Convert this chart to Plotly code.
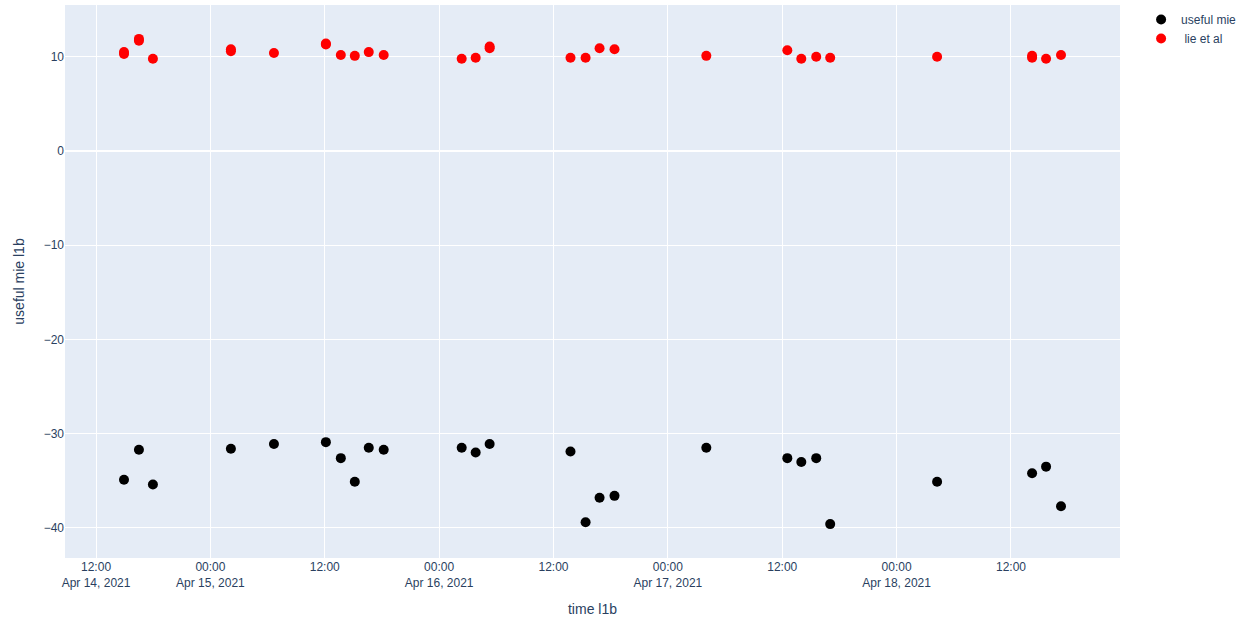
import plotly.graph_objects as go

times = [
    "2021-04-14 14:56", "2021-04-14 16:30", "2021-04-14 17:58",
    "2021-04-15 02:09", "2021-04-15 06:40", "2021-04-15 12:07",
    "2021-04-15 13:41", "2021-04-15 15:09", "2021-04-15 16:37",
    "2021-04-15 18:11", "2021-04-16 02:22", "2021-04-16 03:50",
    "2021-04-16 05:18", "2021-04-16 13:47", "2021-04-16 15:22",
    "2021-04-16 16:50", "2021-04-16 18:24", "2021-04-17 04:02",
    "2021-04-17 12:32", "2021-04-17 14:00", "2021-04-17 15:34",
    "2021-04-17 17:02", "2021-04-18 04:15", "2021-04-18 14:13",
    "2021-04-18 15:41", "2021-04-18 17:15",
]
useful_mie = [
    -34.9, -31.7, -35.4, -31.6, -31.1, -30.9, -32.6, -35.1, -31.5, -31.7,
    -31.5, -32.0, -31.1, -31.9, -39.4, -36.8, -36.6, -31.5, -32.6, -33.0,
    -32.6, -39.6, -35.1, -34.2, -33.5, -37.7,
]

lie_times = times + [
    "2021-04-14 14:56", "2021-04-14 16:30", "2021-04-15 02:09",
    "2021-04-15 12:07", "2021-04-16 05:18", "2021-04-18 14:13",
]
lie_et_al = [
    10.3, 11.7, 9.8, 10.6, 10.4, 11.3, 10.2, 10.1, 10.5, 10.2,
    9.8, 9.9, 10.9, 9.9, 9.9, 10.9, 10.8, 10.1, 10.7, 9.8,
    10.0, 9.9, 10.0, 9.9, 9.8, 10.2,
    10.5, 11.9, 10.8, 11.4, 11.1, 10.1,
]

fig = go.Figure()
fig.add_trace(go.Scatter(x=times, y=useful_mie, mode="markers", name="useful mie",
                         marker=dict(color="black", size=10)))
fig.add_trace(go.Scatter(x=lie_times, y=lie_et_al, mode="markers", name=" lie et al",
                         marker=dict(color="red", size=10)))
fig.update_layout(
    width=1242, height=620,
    margin=dict(l=65, r=122, t=5, b=62, autoexpand=False),
    xaxis_title="time l1b", yaxis_title="useful mie l1b",
    template="plotly",
    font=dict(family="Liberation Sans, Arial, sans-serif"),
)
fig.write_html("out.html")
